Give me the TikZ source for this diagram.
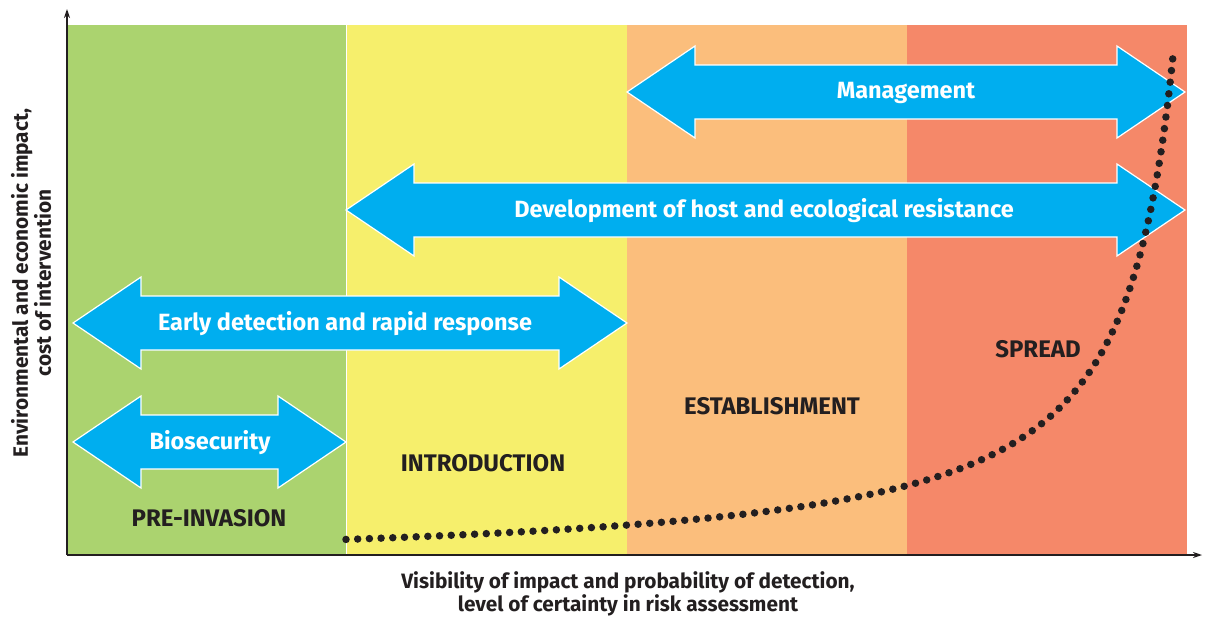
\documentclass[tikz,border=0pt]{standalone}
\usepackage{fontspec}
\setmainfont{Fira Sans}
\usetikzlibrary{arrows.meta}
\definecolor{preinv}{HTML}{ABD36F}
\definecolor{intro}{HTML}{F6EF6C}
\definecolor{establ}{HTML}{FBBE7C}
\definecolor{spread}{HTML}{F58869}
\definecolor{actblue}{HTML}{00AEEF}
\definecolor{darktext}{HTML}{231F20}
\tikzset{
  arrowbody/.style={fill=actblue, draw=white, line width=1.2pt, line join=miter},
  arrowtext/.style={text=white, font=\fontsize{23.5}{26}\selectfont\bfseries},
  stagetext/.style={text=darktext, font=\fontsize{24}{26}\selectfont\bfseries},
  axistext/.style={text=darktext, align=center, font=\fontsize{20.8}{23}\selectfont\bfseries},
  axisline/.style={draw=darktext, line width=1.2pt, -{Stealth[length=9pt, width=6pt]}}
}
% double block arrow: left tip x, right tip x, middle y
\newcommand{\dblarrow}[3]{%
  \filldraw[arrowbody] (#1,#3) -- ({#1+68},{#3-46}) -- ({#1+68},{#3-27})
    -- ({#2-68},{#3-27}) -- ({#2-68},{#3-46}) -- (#2,#3) -- ({#2-68},{#3+46})
    -- ({#2-68},{#3+27}) -- ({#1+68},{#3+27}) -- ({#1+68},{#3+46}) -- cycle;}

\begin{document}
\begin{tikzpicture}[x=1pt, y=-1pt]
    \useasboundingbox (0,0) rectangle (1206,616);

    % stages
    \fill[preinv] (67,25) rectangle (346,555);
    \fill[intro] (346,25) rectangle (627,555);
    \fill[establ] (627,25) rectangle (907,555);
    \fill[spread] (907,25) rectangle (1187,555);
    \draw[white, line width=1pt] (346,25) -- (346,555);

    % axes
    \coordinate (origin) at (67,555);
    \coordinate (ytop) at (67,9);
    \coordinate (xend) at (1202,555);
    \draw[axisline] (origin) -- (ytop);
    \draw[axisline] (origin) -- (xend);

    \node[stagetext] (preinvasion) at (209,518) {PRE-INVASION};
    \node[stagetext] (introduction) at (483,463) {INTRODUCTION};
    \node[stagetext] (establishment) at (772,406) {ESTABLISHMENT};
    \node[stagetext] (spreading) at (1038,349) {SPREAD};

    % actions
    \dblarrow{627}{1185}{92}
    \dblarrow{346}{1185}{210}
    \dblarrow{73}{627}{323}
    \dblarrow{73}{346}{442}
    \node[arrowtext] (management) at (906,93) {Management};
    \node[arrowtext] (resistance) at (764,211) {Development of host and ecological resistance};
    \node[arrowtext] (earlydet) at (345,324) {Early detection and rapid response};
    \node[arrowtext] (biosec) at (210,443) {Biosecurity};

    % impact curve
    \draw[darktext, line width=7.5pt, line cap=round, dash pattern=on 0pt off 11.7pt]
      plot[domain=346:1173, samples=300] (\x, {570 - 268.8/((1225.3-\x)/100)});

    \node[axistext, rotate=90] (ylabel) at (31,283) {Environmental and economic impact,\\cost of intervention};
    \node[axistext] (xlabel) at (628,594) {Visibility of impact and probability of detection,\\level of certainty in risk assessment};
\end{tikzpicture}
\end{document}
